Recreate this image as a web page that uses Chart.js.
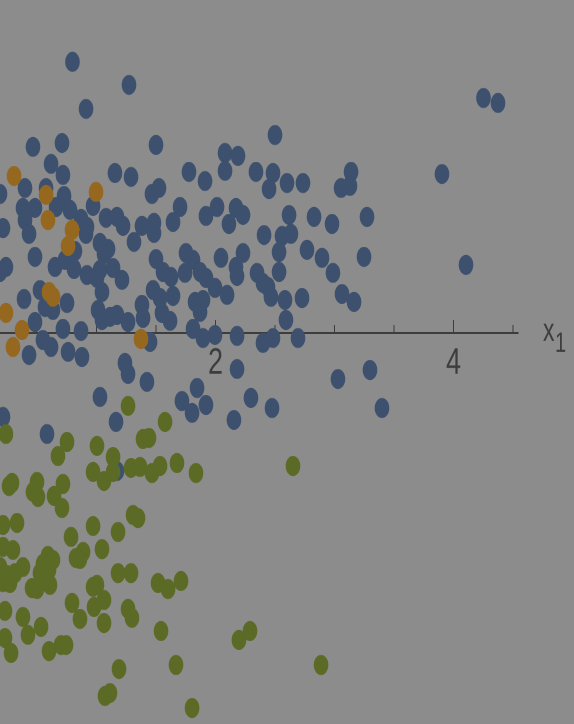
<!DOCTYPE html>
<html>
<head>
<meta charset="utf-8">
<script src="https://cdn.jsdelivr.net/npm/chart.js@4/dist/chart.umd.min.js"></script>
<style>
  html, body { margin: 0; padding: 0; background: #8c8c8c; overflow: hidden; }
</style>
</head>
<body>
<canvas id="plot" width="574" height="528" style="display:block;width:574px;height:724px;"></canvas>
<script>
// Class 1 samples [x1, x2]
const classA = [
  [0.798,1.661],[1.273,1.520],[0.912,1.373],[4.252,1.440],[4.374,1.409],[2.500,1.213],
  [0.466,1.140],[0.710,1.164],[0.618,1.036],[0.718,0.968],[1.155,0.980],[1.290,0.956],
  [1.500,1.152],[1.777,0.987],[1.912,0.931],[2.080,1.103],[2.189,1.085],[2.080,0.993],
  [2.340,0.987],[2.483,0.980],[2.450,0.882],[2.601,0.919],[0.399,0.888],[0.189,0.852],
  [0.576,0.888],[0.727,0.839],[0.382,0.766],[0.483,0.766],[0.660,0.772],[0.777,0.754],
  [0.971,0.778],[0.399,0.692],[0.433,0.607],[0.214,0.643],[0.870,0.699],[0.920,0.650],
  [0.912,0.607],[1.080,0.705],[1.172,0.711],[1.223,0.656],[1.382,0.656],[1.483,0.674],
  [1.483,0.613],[1.466,0.852],[1.525,0.888],[1.702,0.772],[1.643,0.680],[1.920,0.717],
  [2.013,0.772],[2.172,0.766],[2.231,0.723],[2.113,0.668],[2.408,0.600],[2.618,0.723],
  [2.559,0.594],[1.029,0.551],[1.097,0.515],[1.063,0.484],[1.315,0.558],[0.483,0.466],
  [0.239,0.404],[0.189,0.374],[0.651,0.404],[0.735,0.447],[0.811,0.392],[0.920,0.355],
  [1.029,0.386],[1.139,0.398],[1.214,0.325],[1.004,0.337],[1.500,0.453],[1.559,0.374],
  [1.626,0.343],[1.752,0.490],[1.811,0.447],[1.744,0.368],[1.870,0.374],[1.920,0.337],
  [2.046,0.460],[2.231,0.490],[2.172,0.404],[2.181,0.349],[2.349,0.368],[2.399,0.306],
  [2.534,0.496],[2.534,0.374],[2.441,0.282],[2.466,0.221],[2.584,0.202],[2.592,0.080],
  [0.525,0.263],[0.391,0.208],[0.567,0.159],[0.634,0.141],[0.752,0.184],[0.483,0.067],
  [0.718,0.025],[0.870,0.012],[1.013,0.141],[1.046,0.080],[1.113,0.098],[1.172,0.110],
  [1.265,0.067],[1.382,0.172],[1.391,0.092],[1.046,0.251],[1.475,0.263],[1.534,0.214],
  [1.643,0.227],[1.550,0.123],[1.618,0.074],[1.828,0.190],[1.895,0.202],[1.870,0.129],
  [1.996,0.276],[2.097,0.233],[1.811,0.025],[1.996,-0.012],[2.181,-0.018],[0.819,0.502],
  [3.139,0.987],[3.055,0.888],[3.130,0.901],[2.735,0.919],[3.903,0.974],[2.828,0.711],
  [2.979,0.668],[3.273,0.711],[2.634,0.607],[2.769,0.509],[2.895,0.460],[2.987,0.368],
  [3.248,0.466],[4.105,0.417],[2.727,0.214],[3.063,0.239],[3.164,0.190],[2.693,-0.031],
  [0.550,-0.043],[0.618,-0.086],[0.433,-0.135],[0.761,-0.116],[0.878,-0.147],[1.450,-0.055],
  [1.239,-0.184],[1.265,-0.251],[1.424,-0.300],[1.029,-0.392],[1.164,-0.545],[0.214,-0.515],
  [0.584,-0.619],[1.845,-0.337],[1.718,-0.417],[1.803,-0.490],[1.920,-0.441],[2.181,-0.221],
  [2.298,-0.398],[2.155,-0.533],[2.475,-0.460],[2.399,-0.061],[2.483,-0.031],[1.895,-0.031],
  [1.172,-0.846],[3.029,-0.282],[3.298,-0.227],[3.399,-0.460]
];

// Class 2 samples [x1, x2]
const classB = [
  [0.307,0.962],[0.576,0.846],[0.996,0.864],[0.592,0.692],[0.794,0.631],[0.761,0.533],
  [0.601,0.251],[0.634,0.221],[0.239,0.123],[0.374,0.018],[0.298,-0.086],[1.374,-0.037]
];

// Class 3 samples [x1, x2]
const classC = [
  [1.265,-0.447],[0.239,-0.619],[0.752,-0.668],[0.676,-0.754],[1.004,-0.692],[1.139,-0.760],
  [1.391,-0.650],[1.441,-0.643],[1.576,-0.545],[2.651,-0.815],[0.971,-0.852],[1.063,-0.907],
  [1.139,-0.852],[1.290,-0.827],[1.366,-0.821],[1.466,-0.858],[1.534,-0.815],[1.676,-0.797],
  [1.836,-0.858],[0.290,-0.919],[0.265,-0.938],[0.500,-0.913],[0.466,-0.974],[0.508,-1.005],
  [0.718,-0.925],[0.643,-0.999],[0.710,-1.072],[0.214,-1.176],[0.332,-1.164],[0.971,-1.183],
  [1.181,-1.219],[1.307,-1.115],[1.349,-1.134],[0.786,-1.250],[1.046,-1.324],[0.887,-1.342],
  [0.861,-1.385],[0.828,-1.379],[0.592,-1.366],[0.634,-1.391],[0.550,-1.415],[0.601,-1.452],
  [0.525,-1.471],[0.609,-1.544],[0.458,-1.563],[0.500,-1.569],[0.382,-1.434],[0.315,-1.471],
  [0.214,-1.311],[0.298,-1.330],[0.189,-1.434],[0.248,-1.483],[0.214,-1.526],[0.273,-1.532],
  [1.004,-1.544],[0.971,-1.556],[1.181,-1.471],[1.290,-1.471],[1.517,-1.532],[1.601,-1.569],
  [1.710,-1.520],[0.794,-1.654],[0.979,-1.679],[1.063,-1.636],[0.861,-1.752],[1.063,-1.777],
  [1.265,-1.691],[1.298,-1.746],[0.231,-1.703],[0.382,-1.740],[0.534,-1.801],[0.424,-1.850],
  [0.231,-1.869],[0.282,-1.961],[0.601,-1.949],[0.702,-1.912],[0.744,-1.912],[1.542,-1.826],
  [2.197,-1.881],[2.290,-1.826],[1.189,-2.059],[1.668,-2.034],[1.071,-2.224],[1.113,-2.206],
  [1.803,-2.298],[2.887,-2.034]
];

// Axis window and labelled ticks
const xRange = [0.189, 4.542];
const yRange = [-2.396, 2.040];
const majorTicks = [2, 4];
const axisName = ['x', '1'];

const BLUE = 'rgb(61,81,111)';
const ORANGE = 'rgb(150,104,31)';
const GREEN = 'rgb(91,107,38)';
const INK = '#3d3d3d';
const FONT = '"Liberation Sans", Arial, sans-serif';

const toPoints = arr => arr.map(([x, y]) => ({ x, y }));

// floating x axes should not push the plot area inwards
const noSidePadding = scale => { scale.paddingLeft = 0; scale.paddingRight = 0; };

// axis name with subscript, placed past the end of the x axis
const axisLabel = {
  id: 'axisLabel',
  afterDraw(chart) {
    const { ctx, chartArea } = chart;
    const y0 = chart.scales.y.getPixelForValue(0);
    const x0 = chartArea.right + 25;
    ctx.save();
    ctx.fillStyle = INK;
    ctx.textBaseline = 'alphabetic';
    ctx.textAlign = 'left';
    ctx.font = '23px ' + FONT;
    ctx.fillText(axisName[0], x0, y0 + 5.8);
    const w = ctx.measureText(axisName[0]).width;
    ctx.font = '20px ' + FONT;
    ctx.fillText(axisName[1], x0 + w + 0.5, y0 + 13.8);
    ctx.restore();
  }
};

const pointOpts = { pointRadius: 7.3, pointHoverRadius: 7.3, borderWidth: 0, pointBorderWidth: 0 };

new Chart(document.getElementById('plot'), {
  type: 'scatter',
  data: {
    datasets: [
      { label: 'A', data: toPoints(classA), backgroundColor: BLUE, order: 3, ...pointOpts },
      { label: 'B', data: toPoints(classB), backgroundColor: ORANGE, order: 2, ...pointOpts },
      { label: 'C', data: toPoints(classC), backgroundColor: GREEN, order: 1, ...pointOpts }
    ]
  },
  options: {
    responsive: false,
    animation: false,
    devicePixelRatio: 2,
    layout: { autoPadding: false, padding: { left: 0, top: 0, right: 56, bottom: 0 } },
    plugins: { legend: { display: false }, tooltip: { enabled: false } },
    scales: {
      x: {
        type: 'linear', axis: 'x', min: xRange[0], max: xRange[1],
        position: { y: 0 },
        afterFit: noSidePadding,
        ticks: { stepSize: 0.5, includeBounds: false, display: false },
        grid: { drawOnChartArea: false, drawTicks: true, tickLength: -6.5, color: INK, lineWidth: 1 },
        border: { display: true, color: INK, width: 1.5 }
      },
      xMajor: {
        type: 'linear', axis: 'x', min: xRange[0], max: xRange[1],
        position: { y: 0 },
        afterFit: noSidePadding,
        ticks: {
          stepSize: 2, includeBounds: false, padding: 15.6, color: INK,
          font: { family: FONT, size: 27 },
          maxRotation: 0, autoSkip: false,
          callback: v => (majorTicks.includes(v) ? String(v) : '')
        },
        grid: { drawOnChartArea: false, drawTicks: true, tickLength: -9.5, color: INK, lineWidth: 1 },
        border: { display: false }
      },
      y: { type: 'linear', min: yRange[0], max: yRange[1], display: false, afterFit: noSidePadding }
    }
  },
  plugins: [axisLabel]
});
</script>
</body>
</html>
